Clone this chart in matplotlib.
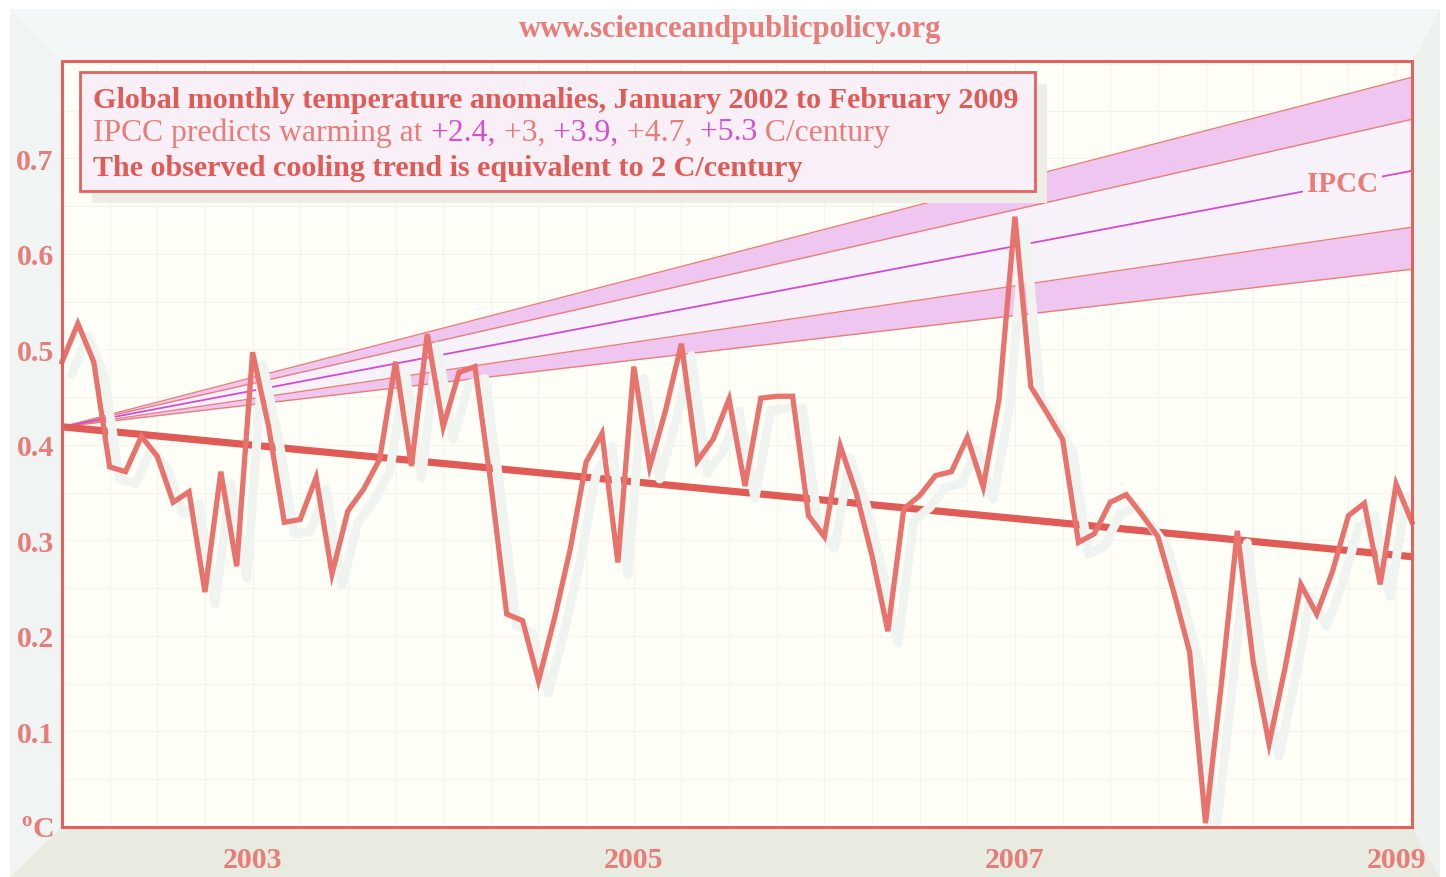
import matplotlib
matplotlib.use('Agg')
import matplotlib.pyplot as plt
import matplotlib.transforms as mtransforms
from matplotlib.patches import Rectangle, Polygon
import numpy as np

# ---------------- data ----------------
start_year = 2002.0
anomalies = [0.487, 0.527, 0.487, 0.377, 0.372, 0.409, 0.388, 0.340, 0.351, 0.246,
             0.372, 0.273, 0.497, 0.420, 0.319, 0.322, 0.366, 0.265, 0.331, 0.354,
             0.385, 0.487, 0.378, 0.516, 0.419, 0.476, 0.482, 0.360, 0.223, 0.216,
             0.153, 0.218, 0.291, 0.382, 0.412, 0.277, 0.482, 0.377, 0.436, 0.506,
             0.383, 0.406, 0.448, 0.357, 0.449, 0.451, 0.451, 0.326, 0.304, 0.399,
             0.350, 0.284, 0.205, 0.333, 0.347, 0.368, 0.372, 0.408, 0.356, 0.448,
             0.639, 0.461, 0.434, 0.406, 0.298, 0.307, 0.340, 0.348, 0.327, 0.304,
             0.246, 0.183, 0.004, 0.150, 0.310, 0.173, 0.087, 0.166, 0.254, 0.223,
             0.268, 0.326, 0.339, 0.254, 0.359, 0.319]
trend_start = 0.419
trend_end = 0.283
ipcc_rates = ["+2.4", "+3", "+3.9", "+4.7", "+5.3"]
ipcc_end = [0.584, 0.628, 0.687, 0.741, 0.785]   # values read at the right edge
year_ticks = [2003, 2005, 2007, 2009]
year_labels = ["2003", "2005", "2007", "2009"]
y_ticks = [0.0, 0.1, 0.2, 0.3, 0.4, 0.5, 0.6, 0.7]
y_labels = [r"$^{\mathbf{o}}$C", "0.1", "0.2", "0.3", "0.4", "0.5", "0.6", "0.7"]

months = np.arange(len(anomalies))
x = start_year + months / 12.0
x0, x1 = x[0], x[-1]

# ---------------- style ----------------
RED = '#e05a56'
SALMON = '#e87c78'
MAGENTA = '#d650cc'
LINE = '#e8726c'
FONT = 'Liberation Serif'
plt.rcParams['font.family'] = [FONT, 'DejaVu Serif']
plt.rcParams['mathtext.fontset'] = 'custom'
plt.rcParams['mathtext.rm'] = FONT
plt.rcParams['mathtext.bf'] = FONT + ':bold'

W, H = 1446, 878
fig = plt.figure(figsize=(W / 100, H / 100), dpi=100)
fig.patch.set_facecolor('white')

def P(px, py):
    return (px / W, 1 - py / H)

# bevelled frame
L, T, R, B = 10, 10, 1440, 878
il, it, ir, ib = 62, 62, 1412, 828
frame = [
    ([(L, T), (R, T), (ir, it), (il, it)], '#f4f7f7'),
    ([(L, T), (il, it), (il, ib), (L, B)], '#f0f4f3'),
    ([(L, B), (il, ib), (ir, ib), (R, B)], '#e7ebe0'),
    ([(R, T), (R, B), (ir, ib), (ir, it)], '#eef2ef'),
]
for pts, c in frame:
    fig.patches.append(Polygon([P(*p) for p in pts], closed=True, transform=fig.transFigure,
                               facecolor=c, edgecolor='none', zorder=-5))

ax = fig.add_axes([il / W, 1 - ib / H, (ir - il) / W, (ib - it) / H])
ax.set_zorder(1)
ax.set_facecolor('#fffff8')
ax.set_xlim(x0, x1)
ax.set_ylim(0, 0.802)

# faint grid
for gx in np.arange(2002.0, 2009.1, 0.25):
    ax.axvline(gx, color='#f1f3ec', lw=0.8, zorder=0.5)
for gy in np.arange(0.05, 0.8, 0.05):
    ax.axhline(gy, color='#f1f3ec', lw=0.8, zorder=0.5)

# IPCC bands
xx = np.array([x0, x1])
def ipcc_line(k):
    return np.array([trend_start, ipcc_end[k]])
ax.fill_between(xx, ipcc_line(0), ipcc_line(1), color='#efc6f0', lw=0, zorder=1)
ax.fill_between(xx, ipcc_line(1), ipcc_line(3), color='#f7f1fa', lw=0, zorder=1)
ax.fill_between(xx, ipcc_line(3), ipcc_line(4), color='#efc6f0', lw=0, zorder=1)
for k in [0, 1, 3, 4]:
    ax.plot(xx, ipcc_line(k), color='#e8807a', lw=1.0, zorder=2)
ax.plot(xx, ipcc_line(2), color='#d24cd0', lw=1.3, zorder=2)

lab_x = 2008.72
lab_y = trend_start + (ipcc_end[2] - trend_start) * (lab_x - x0) / (x1 - x0)
ax.text(lab_x, lab_y, "IPCC", color=SALMON, fontsize=21, fontweight='bold',
        ha='center', va='center', zorder=3,
        bbox=dict(facecolor='#f7f1fa', edgecolor='none', pad=3))

# trend line
ax.plot(xx, [trend_start, trend_end], color=RED, lw=5.2, zorder=3, solid_capstyle='butt')

# data shadow + data line
shadow_tr = ax.transData + mtransforms.ScaledTranslation(0.10, -0.12, fig.dpi_scale_trans)
ax.plot(x, anomalies, color='#f0f4f1', lw=6.5, zorder=4, transform=shadow_tr,
        solid_joinstyle='round')
ax.plot(x, anomalies, color=LINE, lw=3.8, zorder=5, solid_joinstyle='miter', clip_on=False)

for s in ax.spines.values():
    s.set_color('#e2625e')
    s.set_linewidth(2.2)
    s.set_zorder(6)

ax.set_xticks(year_ticks)
ax.set_xticklabels(year_labels)
ax.set_yticks(y_ticks)
ax.set_yticklabels(y_labels)
ax.tick_params(length=0, labelsize=21.5, labelcolor=SALMON)
ax.tick_params(axis='x', pad=14)
ax.tick_params(axis='y', pad=6)
for t in ax.get_xticklabels() + ax.get_yticklabels():
    t.set_fontweight('bold')

# URL on top
fig.text(*P(730, 30), "www.scienceandpublicpolicy.org", ha='center', va='center',
         color=SALMON, fontsize=22, fontweight='bold', zorder=9)

# text box with shadow
bx0, by0, bx1, by1 = 80, 73, 1035, 192
fig.patches.append(Rectangle(P(bx0 + 12, by1 + 12), (bx1 - bx0) / W, (by1 - by0) / H,
                             transform=fig.transFigure, facecolor='#eeeee6', edgecolor='none',
                             zorder=7))
fig.patches.append(Rectangle(P(bx0, by1), (bx1 - bx0) / W, (by1 - by0) / H,
                             transform=fig.transFigure, facecolor='#f9f0f7', edgecolor='#e2625e',
                             lw=2, zorder=8))

fig.text(*P(93, 100), "Global monthly temperature anomalies, January 2002 to February 2009",
         color=RED, fontsize=21.7, fontweight='bold', va='center', ha='left', zorder=9)
fig.text(*P(93, 168), "The observed cooling trend is equivalent to 2 C/century",
         color=RED, fontsize=21.7, fontweight='bold', va='center', ha='left', zorder=9)

pieces = [("IPCC predicts warming at ", SALMON)]
for k, r in enumerate(ipcc_rates):
    sep = "," if k < len(ipcc_rates) - 1 else ""
    pre = "" if k == 0 else " "
    pieces.append((pre + r + sep, MAGENTA if k % 2 == 0 else SALMON))
pieces.append((" C/century", SALMON))

renderer = fig.canvas.get_renderer()
cx = 93
for s, c in pieces:
    t = fig.text(*P(cx, 133), s, color=c, fontsize=22.8, va='center', ha='left', zorder=9)
    bb = t.get_window_extent(renderer)
    cx += bb.width

fig.savefig('out.png', dpi=100, facecolor=fig.get_facecolor())
